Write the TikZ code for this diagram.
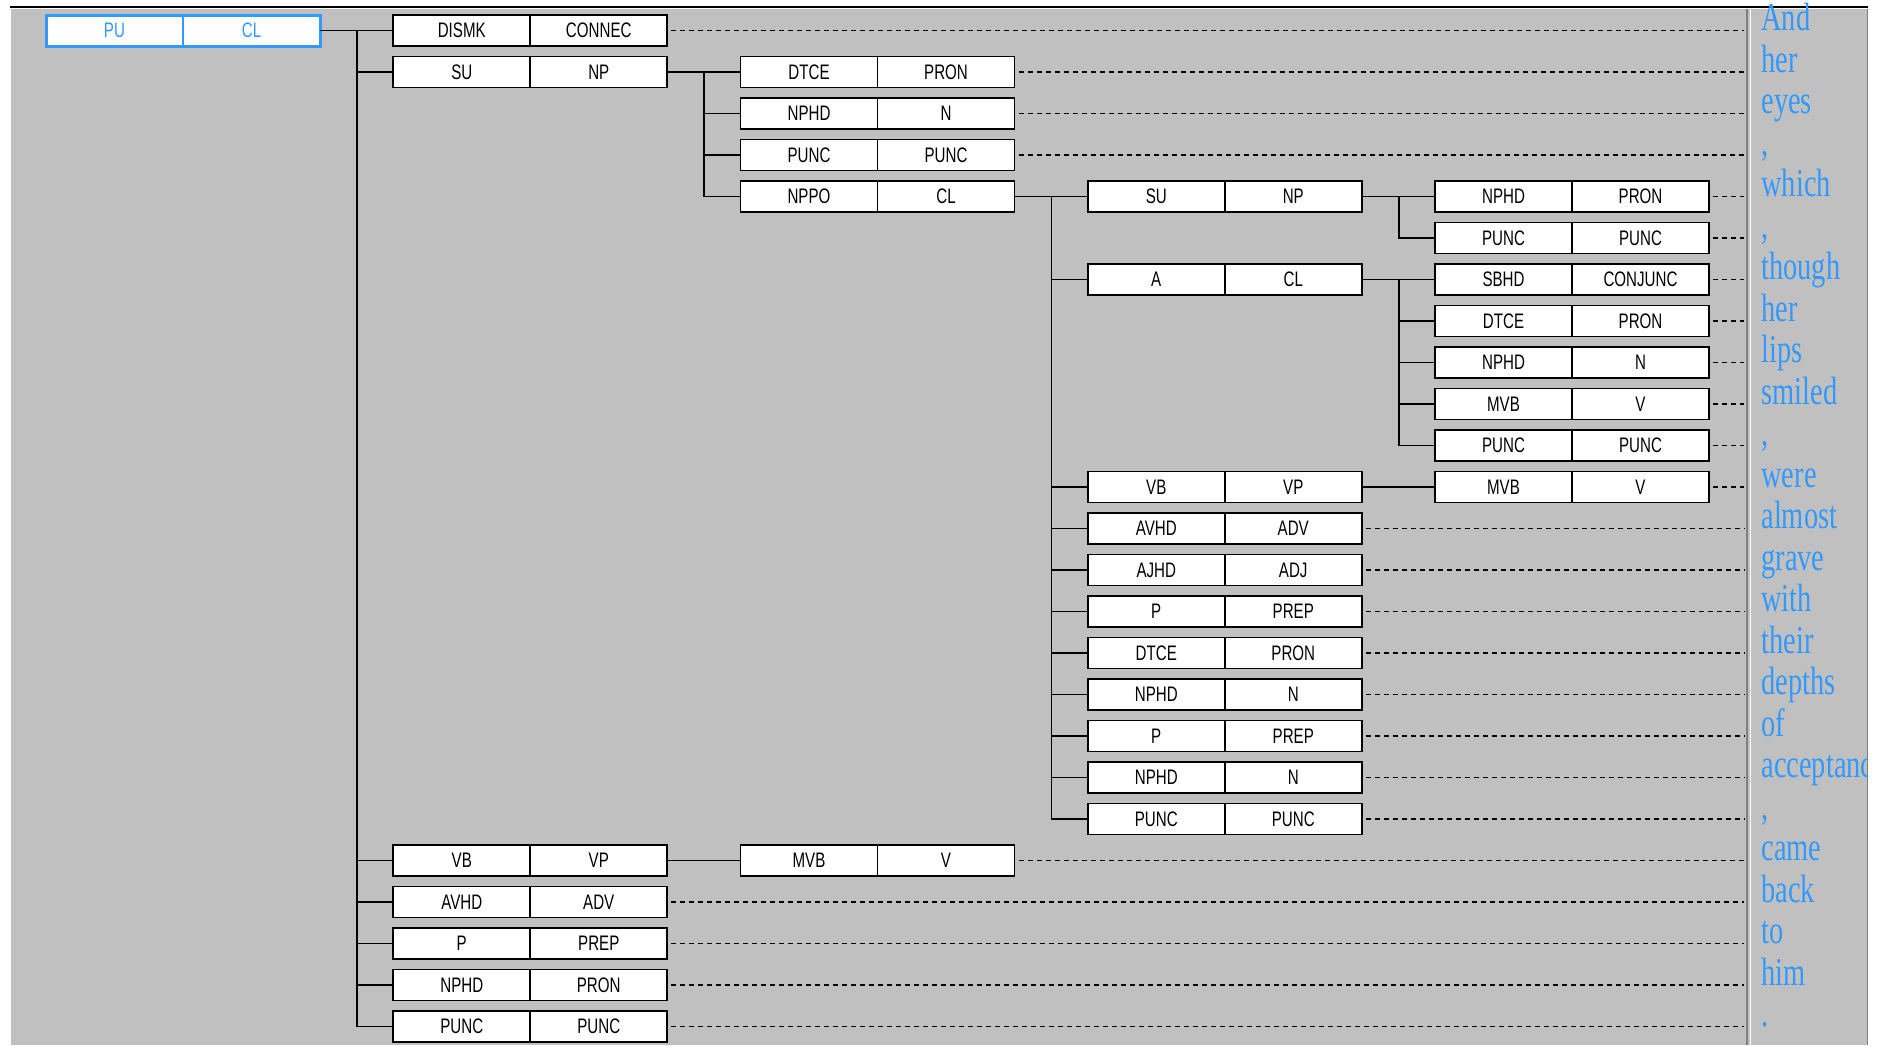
\documentclass[tikz,border=0pt]{standalone}
\usepackage{fontspec}
\usetikzlibrary{positioning}
\newfontfamily\cellfont[FakeStretch=0.72]{Liberation Sans}
\newfontfamily\wordfont[FakeStretch=0.72]{Liberation Serif}
\definecolor{panel}{RGB}{192,192,192}
\definecolor{wordblue}{RGB}{51,153,255}
\definecolor{edge}{RGB}{128,128,128}
\newcommand{\cellpair}[6][cell]{%
  \node[#1,anchor=west] (#2) at ({46+347.25*#3},{30.5+41.5*#4}) {#5};
  \node[#1,right=0pt of #2] (#2-r) {#6};}

\begin{document}
\begin{tikzpicture}[x=0.5pt,y=-0.5pt,
  cell/.style={draw,line width=0.9pt,fill=white,minimum width=68.5pt,minimum height=15.5pt,
    inner sep=0pt,outer sep=0pt,font=\cellfont\fontsize{10.5}{12}\selectfont},
  rootcell/.style={cell,draw=wordblue,line width=0.6pt,text=wordblue},
  link/.style={line width=0.8pt},
  leader/.style={line width=0.9pt,dash pattern=on 2.5pt off 2pt},
  word/.style={anchor=base west,inner sep=0pt,text=wordblue,font=\wordfont\fontsize{19.75}{20}\selectfont}]
  \useasboundingbox (0,0) rectangle (1886,1045);
  \fill[panel] (11,9) rectangle (1868,1045);
  \draw[line width=1pt] (10,7) -- (1868,7);
  \draw[edge,line width=0.6pt] (1747,9) -- (1747,1045);
  \draw[white,line width=0.8pt] (1750.5,9) -- (1750.5,1045);
  \draw[edge,line width=0.5pt] (1867.5,9) -- (1867.5,1045);
  \coordinate (sep) at (1744,0);
  \coordinate (wx) at (1761,0);

  \cellpair[rootcell]{pu}{0}{0}{PU}{CL}
  \draw[wordblue,line width=1.5pt] (pu.north west) rectangle (pu-r.south east);

  \cellpair{dismk}{1}{0}{DISMK}{CONNEC}
  \cellpair{su}{1}{1}{SU}{NP}
  \cellpair{vb}{1}{20}{VB}{VP}
  \cellpair{avhd}{1}{21}{AVHD}{ADV}
  \cellpair{p}{1}{22}{P}{PREP}
  \cellpair{nphd}{1}{23}{NPHD}{PRON}
  \cellpair{punc}{1}{24}{PUNC}{PUNC}

  \cellpair{dtce}{2}{1}{DTCE}{PRON}
  \cellpair{nphdb}{2}{2}{NPHD}{N}
  \cellpair{puncb}{2}{3}{PUNC}{PUNC}
  \cellpair{nppo}{2}{4}{NPPO}{CL}
  \cellpair{mvb}{2}{20}{MVB}{V}

  \cellpair{suc}{3}{4}{SU}{NP}
  \cellpair{ac}{3}{6}{A}{CL}
  \cellpair{vbc}{3}{11}{VB}{VP}
  \cellpair{avhdc}{3}{12}{AVHD}{ADV}
  \cellpair{ajhdc}{3}{13}{AJHD}{ADJ}
  \cellpair{pc}{3}{14}{P}{PREP}
  \cellpair{dtcec}{3}{15}{DTCE}{PRON}
  \cellpair{nphdc}{3}{16}{NPHD}{N}
  \cellpair{pd}{3}{17}{P}{PREP}
  \cellpair{nphdd}{3}{18}{NPHD}{N}
  \cellpair{puncc}{3}{19}{PUNC}{PUNC}

  \cellpair{nphde}{4}{4}{NPHD}{PRON}
  \cellpair{punce}{4}{5}{PUNC}{PUNC}
  \cellpair{sbhd}{4}{6}{SBHD}{CONJUNC}
  \cellpair{dtcee}{4}{7}{DTCE}{PRON}
  \cellpair{nphdf}{4}{8}{NPHD}{N}
  \cellpair{mvbe}{4}{9}{MVB}{V}
  \cellpair{puncf}{4}{10}{PUNC}{PUNC}
  \cellpair{mvbf}{4}{11}{MVB}{V}

  \draw[link] (pu-r.east) -- ++(37,0) coordinate (t0);
  \foreach \c in {dismk,su,vb,avhd,p,nphd,punc} \draw[link] (t0) |- (\c.west);
  \draw[link] (su-r.east) -- ++(37,0) coordinate (t1);
  \foreach \c in {dtce,nphdb,puncb,nppo} \draw[link] (t1) |- (\c.west);
  \draw[link] (nppo-r.east) -- ++(37,0) coordinate (t2);
  \foreach \c in {suc,ac,vbc,avhdc,ajhdc,pc,dtcec,nphdc,pd,nphdd,puncc} \draw[link] (t2) |- (\c.west);
  \draw[link] (suc-r.east) -- ++(37,0) coordinate (t3);
  \foreach \c in {nphde,punce} \draw[link] (t3) |- (\c.west);
  \draw[link] (ac-r.east) -- ++(37,0) coordinate (t4);
  \foreach \c in {sbhd,dtcee,nphdf,mvbe,puncf} \draw[link] (t4) |- (\c.west);
  \draw[link] (vbc-r.east) -- (mvbf.west);
  \draw[link] (vb-r.east) -- (mvb.west);

  \begin{scope}
    \clip (0,0) rectangle (1867,1045);
    \foreach \leaf/\txt in {dismk/And,dtce/her,nphdb/eyes,puncb/{,},nphde/which,punce/{,},
        sbhd/though,dtcee/her,nphdf/lips,mvbe/smiled,puncf/{,},mvbf/were,avhdc/almost,
        ajhdc/grave,pc/with,dtcec/their,nphdc/depths,pd/of,nphdd/acceptance,puncc/{,},
        mvb/came,avhd/back,p/to,nphd/him,punc/.}{
      \draw[leader] (\leaf-r.east) ++(4,0) -- (\leaf-r.east -| sep);
      \node[word] (w-\leaf) at (\leaf-r.east -| wx) {\txt};
    }
  \end{scope}
\end{tikzpicture}
\end{document}
